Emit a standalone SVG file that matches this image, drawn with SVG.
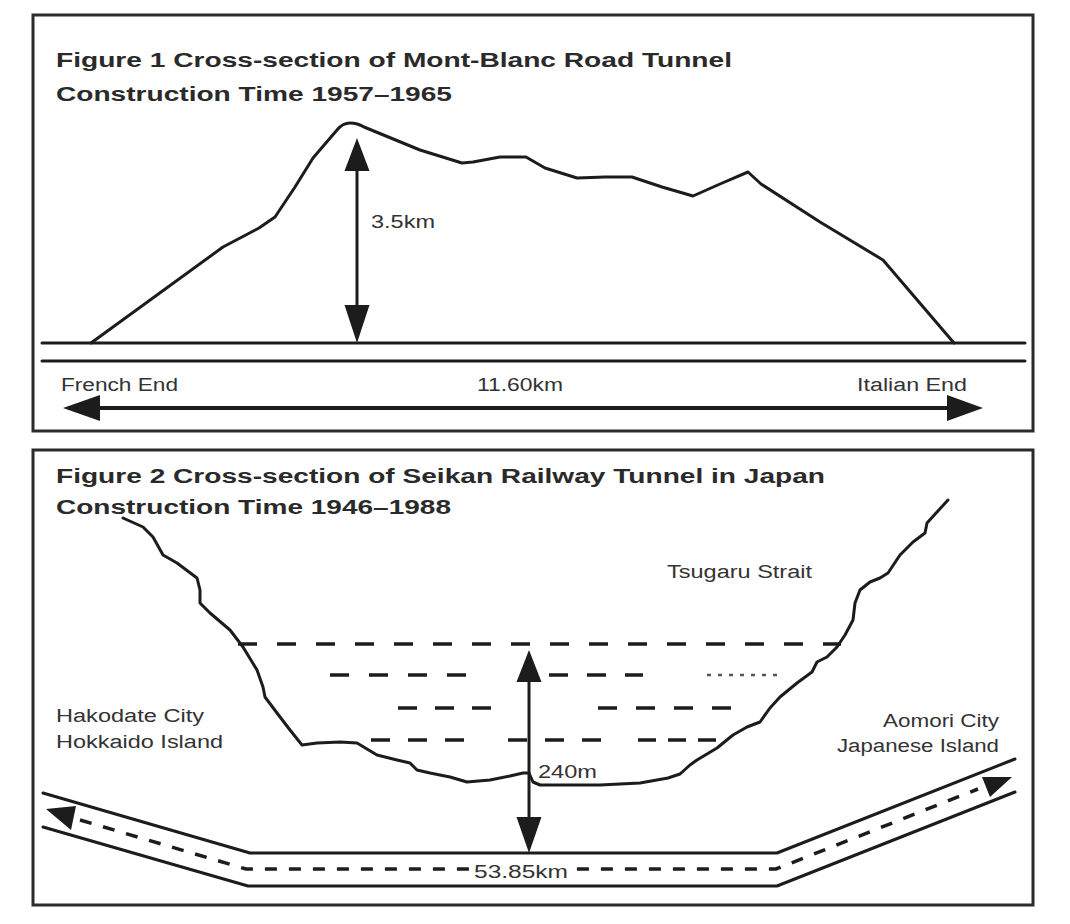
<svg xmlns="http://www.w3.org/2000/svg" width="1070" height="924" viewBox="0 0 1070 924">
<style>
.frame{fill:none;stroke:#2b2b2b;stroke-width:3}
.ln{fill:none;stroke:#1c1c1c;stroke-width:3;stroke-linejoin:round;stroke-linecap:round}
.dash{fill:none;stroke:#1c1c1c;stroke-width:3.5}
.ttl{font-family:"Liberation Sans",Arial,sans-serif;font-weight:bold;font-size:20px;fill:#2a2a2a}
.lbl{font-family:"Liberation Sans",Arial,sans-serif;font-size:18px;fill:#333}
.head{fill:#1c1c1c}
</style>
<rect width="1070" height="924" fill="#fff"/>

<g id="figure1">
<rect class="frame" x="33" y="15" width="1000" height="416"/>
<text class="ttl" x="56" y="67" textLength="676" lengthAdjust="spacingAndGlyphs">Figure 1 Cross-section of Mont-Blanc Road Tunnel</text>
<text class="ttl" x="56" y="101" textLength="396" lengthAdjust="spacingAndGlyphs">Construction Time 1957–1965</text>
<g id="mountain">
<path class="ln" d="M91,343 L223,247 L259,228 L275,217 L295,187 L313,158 L337,130 C341,125 345,123 350,123 C355,123 359,124 364,127 L420,150 L462,163 L473,162 L500,157 L526,157 L545,168 L577,178 L605,177 L632,177 L662,187 L693,196 L720,184 L748,172 L761,184 L820,222 L883,260 L954,343"/>
</g>
<g id="ground">
<line class="ln" x1="42" y1="343" x2="1025" y2="343"/>
<line class="ln" x1="42" y1="361" x2="1025" y2="361"/>
</g>
<text class="lbl" x="371" y="228" textLength="64" lengthAdjust="spacingAndGlyphs">3.5km</text>
<text class="lbl" x="61" y="391" textLength="117" lengthAdjust="spacingAndGlyphs">French End</text>
<text class="lbl" x="477" y="391" textLength="86" lengthAdjust="spacingAndGlyphs">11.60km</text>
<text class="lbl" x="857" y="391" textLength="110" lengthAdjust="spacingAndGlyphs">Italian End</text>
</g>

<g id="figure2">
<rect class="frame" x="33" y="450" width="1000" height="455"/>
<text class="ttl" x="56" y="483" textLength="769" lengthAdjust="spacingAndGlyphs">Figure 2 Cross-section of Seikan Railway Tunnel in Japan</text>
<text class="ttl" x="56" y="514" textLength="395" lengthAdjust="spacingAndGlyphs">Construction Time 1946–1988</text>
<g id="seabed">
<path class="ln" d="M123,518 L143,527 L153,537 L163,555 L177,563 L197,578 L200,590 L200,603 L210,613 L230,630 L243,647 L257,670 L263,687 L265,697 L277,713 L290,730 L302,745 L317,743 L340,742 L357,743 L377,755 L397,760 L410,763 L417,770 L430,773 L450,777 L467,782 L490,780 L510,776 L523,773 L529,773 L533,782 L540,785 L600,785 L640,783 L668,778 L680,774 L690,765 L697,760 L717,748 L733,735 L747,727 L760,722 L770,708 L780,697 L797,683 L812,672 L817,662 L827,657 L837,647 L845,635 L853,620 L855,603 L860,590 L870,582 L880,578 L888,573 L900,555 L913,542 L925,533 L927,523 L937,512 L948,500"/>
</g>
<g id="levels">
<line class="dash" x1="238" y1="644" x2="841" y2="644" stroke-dasharray="19 20"/>
<line class="dash" x1="330" y1="675" x2="467" y2="675" stroke-dasharray="19 20"/>
<line class="dash" x1="549" y1="675" x2="643" y2="675" stroke-dasharray="19 19"/>
<line x1="707" y1="675" x2="778" y2="675" stroke="#555" stroke-width="2.5" stroke-dasharray="4 7"/>
<line class="dash" x1="398" y1="708" x2="491" y2="708" stroke-dasharray="19 18"/>
<line class="dash" x1="598" y1="708" x2="731" y2="708" stroke-dasharray="19 19"/>
<line class="dash" x1="371" y1="740" x2="464" y2="740" stroke-dasharray="19 18"/>
<line class="dash" x1="508" y1="740" x2="601" y2="740" stroke-dasharray="19 18"/>
<line class="dash" x1="638" y1="740" x2="716" y2="740" stroke-dasharray="18 12"/>
</g>
<g id="tunnel">
<polyline class="ln" points="43,793 250,853 777,853 1015,759"/>
<polyline class="ln" points="43,827 248,886 777,886 1015,792"/>
<polyline points="80,820 246,869 776,869 978,789" fill="none" stroke="#1c1c1c" stroke-width="3.5" stroke-dasharray="12 12"/>
<polygon class="head" points="46,809 76,806 71,830"/>
<polygon class="head" points="1012,777 982,777 990,797"/>
</g>
<rect x="472" y="860" width="98" height="20" fill="#fff"/>
<text class="lbl" x="474" y="878" textLength="94" lengthAdjust="spacingAndGlyphs">53.85km</text>
<text class="lbl" x="667" y="578" textLength="145" lengthAdjust="spacingAndGlyphs">Tsugaru Strait</text>
<text class="lbl" x="56" y="722" textLength="148" lengthAdjust="spacingAndGlyphs">Hakodate City</text>
<text class="lbl" x="56" y="748" textLength="167" lengthAdjust="spacingAndGlyphs">Hokkaido Island</text>
<text class="lbl" x="883" y="727" textLength="116" lengthAdjust="spacingAndGlyphs">Aomori City</text>
<text class="lbl" x="837" y="752" textLength="162" lengthAdjust="spacingAndGlyphs">Japanese Island</text>
<text class="lbl" x="538" y="778" textLength="59" lengthAdjust="spacingAndGlyphs">240m</text>
</g>

<g id="connectors">
<line x1="357" y1="165" x2="357" y2="311" stroke="#1c1c1c" stroke-width="3"/>
<polygon class="head" points="357,138 344.5,171 369.5,171"/>
<polygon class="head" points="357,343 344.5,305 369.5,305"/>
<line x1="95" y1="408" x2="952" y2="408" stroke="#1c1c1c" stroke-width="4"/>
<polygon class="head" points="63,408 100,395 100,421"/>
<polygon class="head" points="983,408 947,395 947,421"/>
<line x1="529" y1="676" x2="529" y2="823" stroke="#1c1c1c" stroke-width="3"/>
<polygon class="head" points="529,650 516.5,682 541.5,682"/>
<polygon class="head" points="529,853 516.5,817 541.5,817"/>
</g>
</svg>
